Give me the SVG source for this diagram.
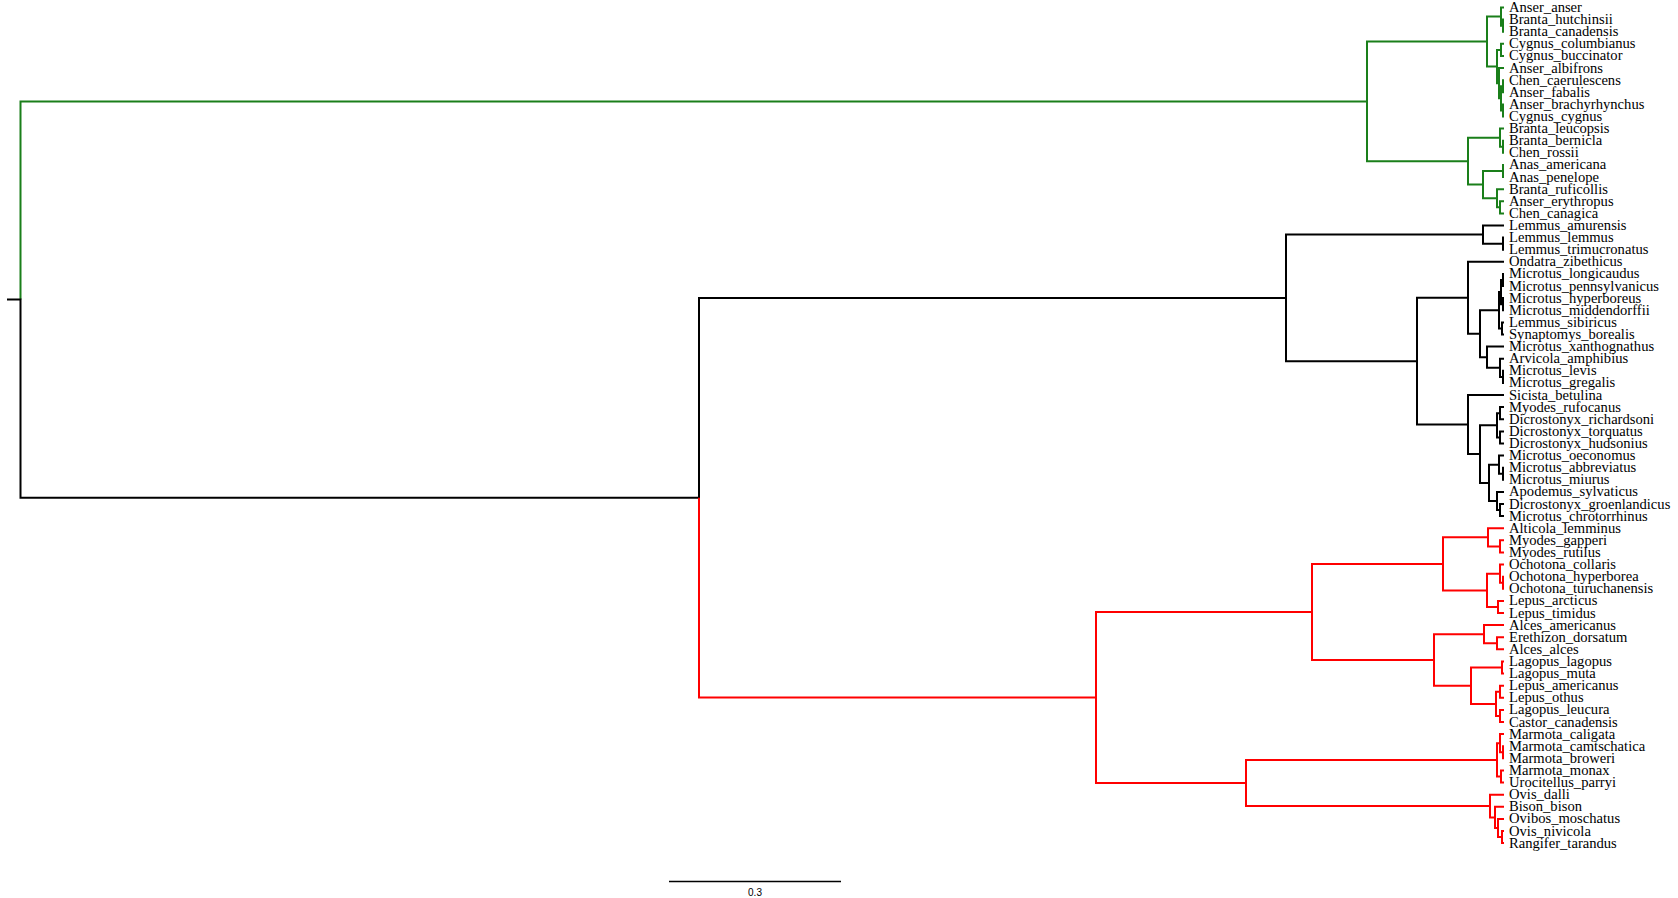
<svg xmlns="http://www.w3.org/2000/svg" width="1678" height="898" viewBox="0 0 1678 898">
<style>
.br{fill:none;stroke-width:2;stroke-linejoin:miter;stroke-linecap:butt}
.g{stroke:#1a7f1a}
.k{stroke:#000}
.r{stroke:#ff0000}
.lab text{font-family:"Liberation Serif","Times New Roman",serif;font-size:14.6px;fill:#000}
.sb{font-family:"Liberation Sans",Arial,sans-serif;font-size:10px;fill:#000}
</style>
<rect width="1678" height="898" fill="#fff"/>
<g id="connectors">
<path class="br g" d="M1504 7.5H1501V25.7H1503 M1504 19.6H1503V31.7H1504 M1504 43.8H1501V55.9H1504 M1504 80.2H1503V92.3H1504 M1504 104.4H1503V116.5H1504 M1503 86.2H1501V110.4H1503 M1504 68.1H1499V98.3H1501 M1501 49.9H1497V83.2H1499 M1501 16.6H1487V66.6H1497 M1504 140.7H1503V152.8H1504 M1504 128.6H1500V146.8H1503 M1504 164.9H1503V177H1504 M1504 201.3H1500V213.4H1504 M1504 189.2H1497V207.3H1500 M1503 171H1483V198.2H1497 M1500 137.7H1468V184.6H1483 M1487 41.6H1367V161.2H1468 M1367 101.4H20.5V299.6"/>
<path class="br k" d="M1504 237.6H1503V249.7H1504 M1504 225.5H1483V243.7H1503 M1504 273.9H1503V286H1504 M1504 298.1H1503V310.3H1504 M1503 280H1501V304.2H1503 M1504 322.4H1502V334.5H1504 M1501 292.1H1499V328.4H1502 M1504 370.8H1503V382.9H1504 M1504 358.7H1500V376.9H1503 M1504 346.6H1487V367.8H1500 M1499 310.3H1480V357.2H1487 M1504 261.8H1468V333.8H1480 M1504 407.1H1500V419.2H1504 M1504 431.4H1500V443.5H1504 M1500 413.2H1497V437.4H1500 M1504 467.7H1503V479.8H1504 M1504 455.6H1499V473.7H1503 M1504 504H1500V516.1H1504 M1504 491.9H1497V510.1H1500 M1499 464.7H1489V501H1497 M1497 425.3H1480V482.9H1489 M1504 395H1468V454.1H1480 M1468 297.8H1417V424.6H1468 M1483 234.6H1286V361.2H1417 M1286 297.9H699V497.7H20.5V299.6H7"/>
<path class="br r" d="M1504 540.3H1500V552.5H1504 M1504 528.2H1488V546.4H1500 M1504 576.7H1503V588.8H1504 M1504 564.6H1500V582.8H1503 M1504 600.9H1498V613H1504 M1500 573.7H1487V607H1498 M1488 537.3H1443V590.4H1487 M1504 637.2H1497V649.3H1504 M1504 625.1H1484V643.3H1497 M1504 661.4H1502V673.6H1504 M1504 685.7H1500V697.8H1504 M1504 709.9H1500V722H1504 M1500 691.8H1496V716H1500 M1502 667.5H1471V703.9H1496 M1484 634.2H1434V685.7H1471 M1443 563.9H1312V660H1434 M1504 746.2H1503V758.3H1504 M1504 734.1H1500V752.3H1503 M1504 770.4H1501V782.5H1504 M1500 743.2H1497V776.5H1501 M1504 831H1502V843.1H1504 M1504 818.9H1498V837.1H1502 M1504 806.8H1495V828H1498 M1504 794.7H1490V817.4H1495 M1497 759.9H1246V806.1H1490 M1312 612H1096V783H1246 M699 497.7V697.5H1096"/>
</g>
<g class="lab">
<g id="leaf-Anser_anser"><text x="1509" y="12">Anser_anser</text></g>
<g id="leaf-Branta_hutchinsii"><text x="1509" y="24.1">Branta_hutchinsii</text></g>
<g id="leaf-Branta_canadensis"><text x="1509" y="36.2">Branta_canadensis</text></g>
<g id="leaf-Cygnus_columbianus"><text x="1509" y="48.3">Cygnus_columbianus</text></g>
<g id="leaf-Cygnus_buccinator"><text x="1509" y="60.4">Cygnus_buccinator</text></g>
<g id="leaf-Anser_albifrons"><text x="1509" y="72.6">Anser_albifrons</text></g>
<g id="leaf-Chen_caerulescens"><text x="1509" y="84.7">Chen_caerulescens</text></g>
<g id="leaf-Anser_fabalis"><text x="1509" y="96.8">Anser_fabalis</text></g>
<g id="leaf-Anser_brachyrhynchus"><text x="1509" y="108.9">Anser_brachyrhynchus</text></g>
<g id="leaf-Cygnus_cygnus"><text x="1509" y="121">Cygnus_cygnus</text></g>
<g id="leaf-Branta_leucopsis"><text x="1509" y="133.1">Branta_leucopsis</text></g>
<g id="leaf-Branta_bernicla"><text x="1509" y="145.2">Branta_bernicla</text></g>
<g id="leaf-Chen_rossii"><text x="1509" y="157.3">Chen_rossii</text></g>
<g id="leaf-Anas_americana"><text x="1509" y="169.4">Anas_americana</text></g>
<g id="leaf-Anas_penelope"><text x="1509" y="181.5">Anas_penelope</text></g>
<g id="leaf-Branta_ruficollis"><text x="1509" y="193.7">Branta_ruficollis</text></g>
<g id="leaf-Anser_erythropus"><text x="1509" y="205.8">Anser_erythropus</text></g>
<g id="leaf-Chen_canagica"><text x="1509" y="217.9">Chen_canagica</text></g>
<g id="leaf-Lemmus_amurensis"><text x="1509" y="230">Lemmus_amurensis</text></g>
<g id="leaf-Lemmus_lemmus"><text x="1509" y="242.1">Lemmus_lemmus</text></g>
<g id="leaf-Lemmus_trimucronatus"><text x="1509" y="254.2">Lemmus_trimucronatus</text></g>
<g id="leaf-Ondatra_zibethicus"><text x="1509" y="266.3">Ondatra_zibethicus</text></g>
<g id="leaf-Microtus_longicaudus"><text x="1509" y="278.4">Microtus_longicaudus</text></g>
<g id="leaf-Microtus_pennsylvanicus"><text x="1509" y="290.5">Microtus_pennsylvanicus</text></g>
<g id="leaf-Microtus_hyperboreus"><text x="1509" y="302.6">Microtus_hyperboreus</text></g>
<g id="leaf-Microtus_middendorffii"><text x="1509" y="314.8">Microtus_middendorffii</text></g>
<g id="leaf-Lemmus_sibiricus"><text x="1509" y="326.9">Lemmus_sibiricus</text></g>
<g id="leaf-Synaptomys_borealis"><text x="1509" y="339">Synaptomys_borealis</text></g>
<g id="leaf-Microtus_xanthognathus"><text x="1509" y="351.1">Microtus_xanthognathus</text></g>
<g id="leaf-Arvicola_amphibius"><text x="1509" y="363.2">Arvicola_amphibius</text></g>
<g id="leaf-Microtus_levis"><text x="1509" y="375.3">Microtus_levis</text></g>
<g id="leaf-Microtus_gregalis"><text x="1509" y="387.4">Microtus_gregalis</text></g>
<g id="leaf-Sicista_betulina"><text x="1509" y="399.5">Sicista_betulina</text></g>
<g id="leaf-Myodes_rufocanus"><text x="1509" y="411.6">Myodes_rufocanus</text></g>
<g id="leaf-Dicrostonyx_richardsoni"><text x="1509" y="423.7">Dicrostonyx_richardsoni</text></g>
<g id="leaf-Dicrostonyx_torquatus"><text x="1509" y="435.9">Dicrostonyx_torquatus</text></g>
<g id="leaf-Dicrostonyx_hudsonius"><text x="1509" y="448">Dicrostonyx_hudsonius</text></g>
<g id="leaf-Microtus_oeconomus"><text x="1509" y="460.1">Microtus_oeconomus</text></g>
<g id="leaf-Microtus_abbreviatus"><text x="1509" y="472.2">Microtus_abbreviatus</text></g>
<g id="leaf-Microtus_miurus"><text x="1509" y="484.3">Microtus_miurus</text></g>
<g id="leaf-Apodemus_sylvaticus"><text x="1509" y="496.4">Apodemus_sylvaticus</text></g>
<g id="leaf-Dicrostonyx_groenlandicus"><text x="1509" y="508.5">Dicrostonyx_groenlandicus</text></g>
<g id="leaf-Microtus_chrotorrhinus"><text x="1509" y="520.6">Microtus_chrotorrhinus</text></g>
<g id="leaf-Alticola_lemminus"><text x="1509" y="532.7">Alticola_lemminus</text></g>
<g id="leaf-Myodes_gapperi"><text x="1509" y="544.8">Myodes_gapperi</text></g>
<g id="leaf-Myodes_rutilus"><text x="1509" y="557">Myodes_rutilus</text></g>
<g id="leaf-Ochotona_collaris"><text x="1509" y="569.1">Ochotona_collaris</text></g>
<g id="leaf-Ochotona_hyperborea"><text x="1509" y="581.2">Ochotona_hyperborea</text></g>
<g id="leaf-Ochotona_turuchanensis"><text x="1509" y="593.3">Ochotona_turuchanensis</text></g>
<g id="leaf-Lepus_arcticus"><text x="1509" y="605.4">Lepus_arcticus</text></g>
<g id="leaf-Lepus_timidus"><text x="1509" y="617.5">Lepus_timidus</text></g>
<g id="leaf-Alces_americanus"><text x="1509" y="629.6">Alces_americanus</text></g>
<g id="leaf-Erethizon_dorsatum"><text x="1509" y="641.7">Erethizon_dorsatum</text></g>
<g id="leaf-Alces_alces"><text x="1509" y="653.8">Alces_alces</text></g>
<g id="leaf-Lagopus_lagopus"><text x="1509" y="665.9">Lagopus_lagopus</text></g>
<g id="leaf-Lagopus_muta"><text x="1509" y="678.1">Lagopus_muta</text></g>
<g id="leaf-Lepus_americanus"><text x="1509" y="690.2">Lepus_americanus</text></g>
<g id="leaf-Lepus_othus"><text x="1509" y="702.3">Lepus_othus</text></g>
<g id="leaf-Lagopus_leucura"><text x="1509" y="714.4">Lagopus_leucura</text></g>
<g id="leaf-Castor_canadensis"><text x="1509" y="726.5">Castor_canadensis</text></g>
<g id="leaf-Marmota_caligata"><text x="1509" y="738.6">Marmota_caligata</text></g>
<g id="leaf-Marmota_camtschatica"><text x="1509" y="750.7">Marmota_camtschatica</text></g>
<g id="leaf-Marmota_broweri"><text x="1509" y="762.8">Marmota_broweri</text></g>
<g id="leaf-Marmota_monax"><text x="1509" y="774.9">Marmota_monax</text></g>
<g id="leaf-Urocitellus_parryi"><text x="1509" y="787">Urocitellus_parryi</text></g>
<g id="leaf-Ovis_dalli"><text x="1509" y="799.2">Ovis_dalli</text></g>
<g id="leaf-Bison_bison"><text x="1509" y="811.3">Bison_bison</text></g>
<g id="leaf-Ovibos_moschatus"><text x="1509" y="823.4">Ovibos_moschatus</text></g>
<g id="leaf-Ovis_nivicola"><text x="1509" y="835.5">Ovis_nivicola</text></g>
<g id="leaf-Rangifer_tarandus"><text x="1509" y="847.6">Rangifer_tarandus</text></g>
</g>
<g id="scale-bar">
<path d="M669 881.5H841" stroke="#000" stroke-width="1.5" fill="none"/>
<text class="sb" x="755" y="896" text-anchor="middle">0.3</text>
</g>
</svg>
